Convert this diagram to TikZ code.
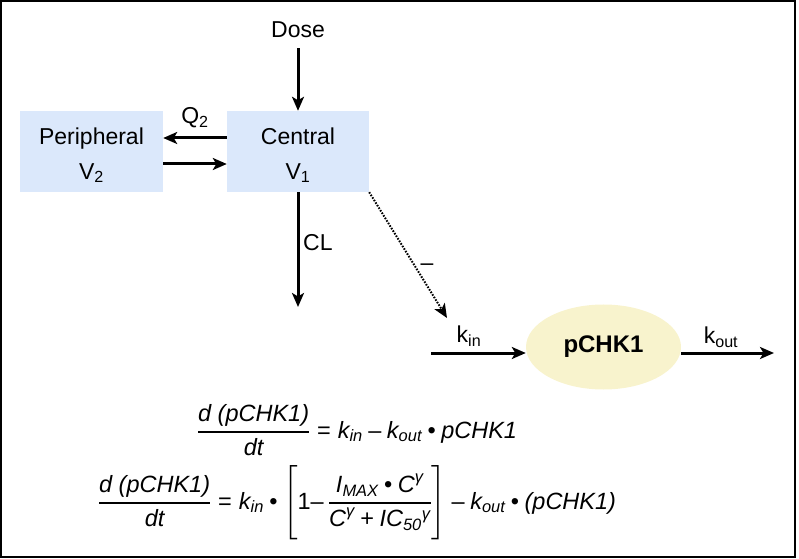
\documentclass[tikz,border=0pt]{standalone}
\usepackage{amsmath}
\usepackage{fontspec}
\setmainfont{Liberation Sans}
\usetikzlibrary{arrows.meta,shapes.geometric}
\definecolor{boxblue}{RGB}{219,232,251}
\definecolor{ellyellow}{RGB}{248,243,205}
\newcommand{\fsz}{\fontsize{23bp}{35bp}\selectfont}
\newcommand{\eqsz}{\fontsize{23.5bp}{30bp}\selectfont}
\newcommand{\ffrac}[2]{\genfrac{}{}{1.5bp}{0}{#1}{#2}}
\tikzset{
  arr/.style={line width=3bp, -{Stealth[length=14bp,width=12bp,inset=3.5bp]}},
  pkbox/.style={fill=boxblue, draw=none, minimum width=142bp, minimum height=81bp, inner sep=0pt, align=center, font=\fsz},
  lab/.style={inner sep=0pt, font=\fsz},
  eqlab/.style={inner sep=0pt, font=\eqsz},
  dotarr/.style={line width=2bp, dash pattern=on 1.6bp off 1.4bp, -{Stealth[length=14bp,width=12bp,inset=3.5bp]}},
}
\begin{document}
\begin{tikzpicture}[x=1bp,y=-1bp]
\useasboundingbox (0,0) rectangle (799,559);
\draw[line width=2bp] (1,1) rectangle (794.5,557);
\node[lab] (dose) at (298,30) {Dose};
\node[pkbox] (central) at (298,151.5) {\rule{0pt}{24bp}Central\\V\textsubscript{1}};
\node[pkbox, minimum width=143bp] (periph) at (91.5,151.5) {\rule{0pt}{24bp}Peripheral\\V\textsubscript{2}};
\draw[arr] ([yshift=-10bp]dose.south) -- (central.north);
\draw[arr] (central.west |- 0,138) -- (periph.east |- 0,138);
\draw[arr] (periph.east |- 0,164) -- (central.west |- 0,164);
\node[lab] (q2) at (195,118) {Q\textsubscript{2}};
\coordinate (clend) at (298,307);
\draw[arr] (central.south) -- (clend);
\node[lab, anchor=west] (cl) at (303,243) {CL};
\coordinate (dotend) at (447,318);
\draw[dotarr] (central.south east) -- (dotend);
\node[lab] (minus) at (427,267) {–};
\node[ellipse, fill=ellyellow, minimum width=155bp, minimum height=85bp, inner sep=0pt,
      font=\fontsize{24bp}{28bp}\selectfont\bfseries] (pchk) at (603.5,347) {pCHK1};
\coordinate (kinstart) at (431,353);
\draw[arr] (kinstart) -- (pchk.west |- 0,353);
\node[lab] (kin) at (469,336) {k\textsubscript{in}};
\coordinate (koutend) at (774,353);
\draw[arr] (pchk.east |- 0,353) -- (koutend);
\node[lab] (kout) at (721,337) {k\textsubscript{out}};
\node[eqlab] (eqa) at (357,430) {$\ffrac{\textit{d (pCHK1)}}{\textit{dt}} \mathrel{\text{=}} \textit{k}_{\textit{in}} \mathbin{\text{–}} \textit{k}_{\textit{out}} \mathbin{\text{•}} \textit{pCHK1}$};
\node[eqlab] (eqb) at (357,503) {$\ffrac{\textit{d (pCHK1)}}{\textit{dt}} \mathrel{\text{=}} \textit{k}_{\textit{in}} \mathbin{\text{•}} \left[\rule[-28bp]{0pt}{68bp}\text{1–}\,\ffrac{\textit{I}_{\textit{MAX}} \mathbin{\text{•}} \textit{C}^{\textit{γ}}}{\textit{C}^{\textit{γ}} \mathbin{\text{+}} \textit{IC}_{\textit{50}}{}^{\textit{γ}}}\right] \mathbin{\text{–}} \textit{k}_{\textit{out}} \mathbin{\text{•}} \textit{(pCHK1)}$};
\end{tikzpicture}
\end{document}
